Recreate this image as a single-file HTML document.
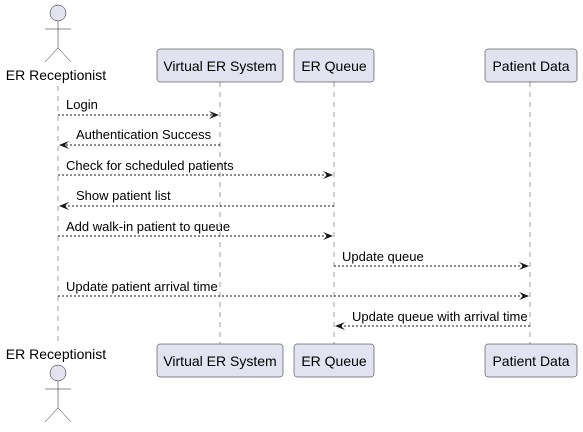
<!DOCTYPE html><html><head><style>body{margin:0;background:#fff}</style></head><body>
<svg width="583" height="427" xmlns="http://www.w3.org/2000/svg" font-family="Liberation Sans, Arial, sans-serif">
<defs><marker id="a" markerWidth="10" markerHeight="8" refX="9" refY="4" orient="auto" markerUnits="userSpaceOnUse"><path d="M0,0 L10,4 L0,8 L4,4 Z" fill="#181818"/></marker></defs>
<g stroke="#a0a0a0" stroke-dasharray="5,5" stroke-width="1">
<line x1="58" y1="86" x2="58" y2="344"/><line x1="220" y1="82" x2="220" y2="344"/><line x1="334" y1="82" x2="334" y2="344"/><line x1="530" y1="82" x2="530" y2="344"/></g>
<g fill="#e2e2f0" stroke="#181818" stroke-width="0.5">
<rect x="157" y="49" width="126" height="33" rx="3"/><rect x="294" y="49" width="80" height="33" rx="3"/><rect x="485" y="49" width="92" height="33" rx="3"/>
<rect x="157" y="344" width="126" height="33" rx="3"/><rect x="294" y="344" width="80" height="33" rx="3"/><rect x="485" y="344" width="92" height="33" rx="3"/></g>
<g font-size="14" fill="#000" text-anchor="middle">
<text x="220" y="71">Virtual ER System</text><text x="334" y="71">ER Queue</text><text x="531" y="71">Patient Data</text>
<text x="220" y="366">Virtual ER System</text><text x="334" y="366">ER Queue</text><text x="531" y="366">Patient Data</text>
<text x="56" y="80">ER Receptionist</text><text x="56" y="359">ER Receptionist</text></g>
<g fill="#e2e2f0" stroke="#181818" stroke-width="0.5"><circle cx="58" cy="13" r="8"/><circle cx="58" cy="373" r="8"/></g>
<g stroke="#181818" stroke-width="0.5" fill="none">
<path d="M58,21 V48 M45,29 H71 M45,62 L58,48 L71,62"/>
<path d="M58,381 V408 M45,389 H71 M45,422 L58,408 L71,422"/></g>
<g stroke="#181818" stroke-dasharray="2,2" stroke-width="1" marker-end="url(#a)">
<line x1="58" y1="115" x2="218" y2="115"/><line x1="220" y1="145" x2="60" y2="145"/>
<line x1="58" y1="175" x2="332" y2="175"/><line x1="334" y1="206" x2="60" y2="206"/>
<line x1="58" y1="236" x2="332" y2="236"/><line x1="334" y1="266" x2="528" y2="266"/>
<line x1="58" y1="296" x2="528" y2="296"/><line x1="530" y1="326" x2="336" y2="326"/></g>
<g font-size="13" fill="#000">
<text x="66" y="109">Login</text><text x="76" y="139">Authentication Success</text>
<text x="66" y="170">Check for scheduled patients</text><text x="76" y="200">Show patient list</text>
<text x="66" y="231">Add walk-in patient to queue</text><text x="342" y="261">Update queue</text>
<text x="66" y="291">Update patient arrival time</text><text x="352" y="321">Update queue with arrival time</text></g>
</svg></body></html>
